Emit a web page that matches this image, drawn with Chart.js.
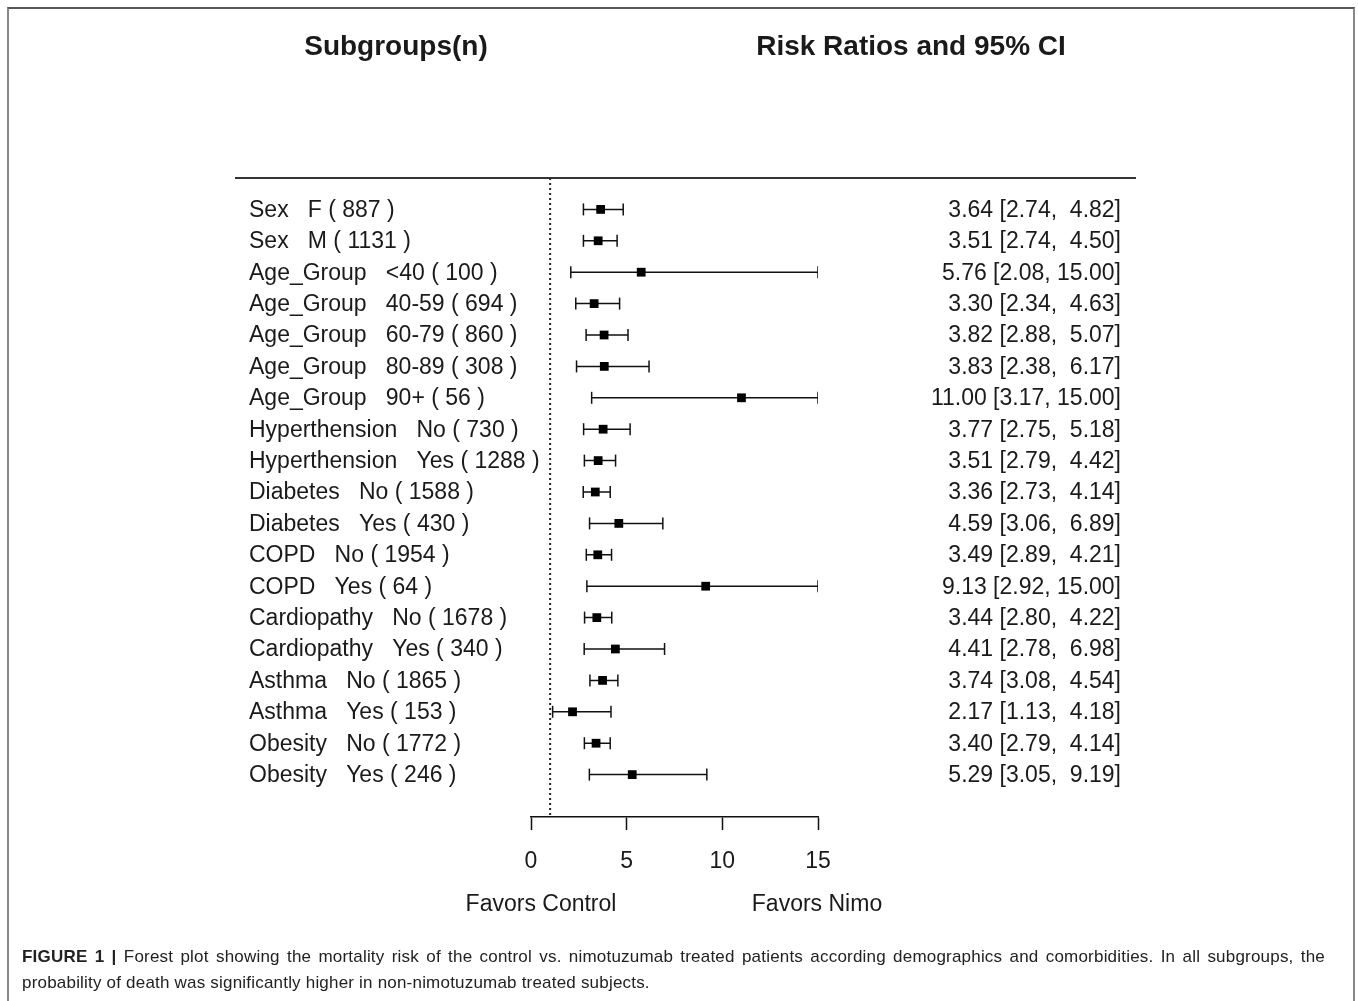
<!DOCTYPE html>
<html>
<head>
<meta charset="utf-8">
<script src="https://cdn.jsdelivr.net/npm/chart.js@4.4.0/dist/chart.umd.min.js"></script>
<style>
  html, body { margin: 0; padding: 0; background: #fff; }
  body { width: 1358px; height: 1001px; position: relative; overflow: hidden; }
  #frame {
    position: absolute; left: 7px; top: 7px; width: 1344px; height: 1010px;
    border-top: 2px solid #555; border-left: 2px solid #888; border-right: 2px solid #888;
  }
  canvas { position: absolute; left: 0; top: 0; }
  .cap {
    position: absolute; left: 22px; width: 1303px;
    font-family: "Liberation Sans", Arial, sans-serif; font-size: 17px; letter-spacing: 0.2px; color: #222;
    white-space: nowrap;
  }
  #cap1 { top: 947px; text-align: justify; text-align-last: justify; }
  #cap2 { top: 973px; }
</style>
</head>
<body>
<div id="frame"></div>
<canvas id="forest" width="1358" height="1001"></canvas>
<div class="cap" id="cap1"><b>FIGURE 1 |</b> Forest plot showing the mortality risk of the control vs. nimotuzumab treated patients according demographics and comorbidities. In all subgroups, the</div>
<div class="cap" id="cap2">probability of death was significantly higher in non-nimotuzumab treated subjects.</div>
<script>
// Subgrupos y resultados (RR y IC 95%)
const grupos = ['Sex', 'Sex', 'Age_Group', 'Age_Group', 'Age_Group', 'Age_Group', 'Age_Group',
    'Hyperthension', 'Hyperthension', 'Diabetes', 'Diabetes', 'COPD', 'COPD',
    'Cardiopathy', 'Cardiopathy', 'Asthma', 'Asthma', 'Obesity', 'Obesity'];
const niveles = ['F', 'M', '<40', '40-59', '60-79', '80-89', '90+',
    'No', 'Yes', 'No', 'Yes', 'No', 'Yes', 'No', 'Yes', 'No', 'Yes', 'No', 'Yes'];
const tamanos = [887, 1131, 100, 694, 860, 308, 56, 730, 1288, 1588, 430, 1954, 64, 1678, 340, 1865, 153, 1772, 246];
const rr = [3.64, 3.51, 5.76, 3.30, 3.82, 3.83, 11.00, 3.77, 3.51, 3.36, 4.59, 3.49, 9.13, 3.44, 4.41, 3.74, 2.17, 3.40, 5.29];
const icInf = [2.74, 2.74, 2.08, 2.34, 2.88, 2.38, 3.17, 2.75, 2.79, 2.73, 3.06, 2.89, 2.92, 2.80, 2.78, 3.08, 1.13, 2.79, 3.05];
const icSup = [4.82, 4.50, 15.00, 4.63, 5.07, 6.17, 15.00, 5.18, 4.42, 4.14, 6.89, 4.21, 15.00, 4.22, 6.98, 4.54, 4.18, 4.14, 9.19];
const ticksX = [0, 5, 10, 15];
const lineaRef = 1;

const FUENTE = '"Liberation Sans", Arial, sans-serif';

// Puntos para los intervalos (con huecos entre filas)
const segmentos = [];
rr.forEach((v, i) => {
    segmentos.push({ x: icInf[i], y: i + 1 });
    segmentos.push({ x: icSup[i], y: i + 1 });
    segmentos.push({ x: null, y: null });
});
const puntos = rr.map((v, i) => ({ x: v, y: i + 1 }));

// Textos fuera del área del gráfico
const textosPlugin = {
    id: 'textos',
    afterDraw(chart) {
        const ctx = chart.ctx;
        const yScale = chart.scales.y;
        ctx.save();
        ctx.fillStyle = '#1a1a1a';

        ctx.font = 'bold 28px ' + FUENTE;
        ctx.textAlign = 'center';
        ctx.textBaseline = 'middle';
        ctx.fillText('Subgroups(n)', 396, 47);
        ctx.fillText('Risk Ratios and 95% CI', 911, 47);

        // línea superior
        ctx.strokeStyle = '#333';
        ctx.lineWidth = 2;
        ctx.beginPath();
        ctx.moveTo(235, 178);
        ctx.lineTo(1136, 178);
        ctx.stroke();

        ctx.font = '23px ' + FUENTE;
        rr.forEach((v, i) => {
            const y = yScale.getPixelForValue(i + 1) + 1;
            ctx.textAlign = 'left';
            ctx.fillText(grupos[i] + '   ' + niveles[i] + ' ( ' + tamanos[i] + ' )', 249, y);
            ctx.textAlign = 'right';
            const txt = v.toFixed(2) + ' [' + icInf[i].toFixed(2) + ', ' + icSup[i].toFixed(2).padStart(5, ' ') + ']';
            ctx.fillText(txt, 1121, y);
        });

        ctx.textAlign = 'center';
        ctx.fillText('Favors Control', 541, 905);
        ctx.fillText('Favors Nimo', 817, 905);
        ctx.restore();
    }
};

new Chart(document.getElementById('forest'), {
    type: 'scatter',
    data: {
        datasets: [
            {
                type: 'line',
                data: [{ x: lineaRef, y: 0 }, { x: lineaRef, y: 20.35 }],
                borderColor: '#222',
                borderWidth: 2,
                borderDash: [2, 3],
                pointRadius: 0,
                order: 3
            },
            {
                type: 'line',
                data: segmentos,
                borderColor: '#111',
                borderWidth: 1.5,
                spanGaps: false,
                pointStyle: 'line',
                pointRotation: 90,
                pointRadius: 6,
                pointBorderColor: '#111',
                pointBorderWidth: 1.5,
                order: 2
            },
            {
                data: puntos,
                pointStyle: 'rect',
                pointRadius: 6.2,
                backgroundColor: '#000',
                borderColor: '#000',
                borderWidth: 0,
                order: 1
            }
        ]
    },
    options: {
        responsive: false,
        animation: false,
        layout: { padding: { left: 531, right: 540, top: 178, bottom: 124 } },
        plugins: { legend: { display: false }, tooltip: { enabled: false } },
        scales: {
            x: {
                type: 'linear',
                min: 0,
                max: 15,
                afterBuildTicks: (scale) => { scale.ticks = ticksX.map(v => ({ value: v })); },
                afterFit: (scale) => { scale.height = 60; },
                grid: { drawOnChartArea: false, drawTicks: true, tickLength: 13, tickColor: '#111', tickWidth: 1.5 },
                border: { display: true, color: '#111', width: 1.5 },
                ticks: { color: '#1a1a1a', font: { family: FUENTE, size: 23 }, padding: 18, maxRotation: 0 }
            },
            y: {
                type: 'linear',
                display: false,
                reverse: true,
                min: 0,
                max: 20.35
            }
        }
    },
    plugins: [textosPlugin]
});
</script>
</body>
</html>
